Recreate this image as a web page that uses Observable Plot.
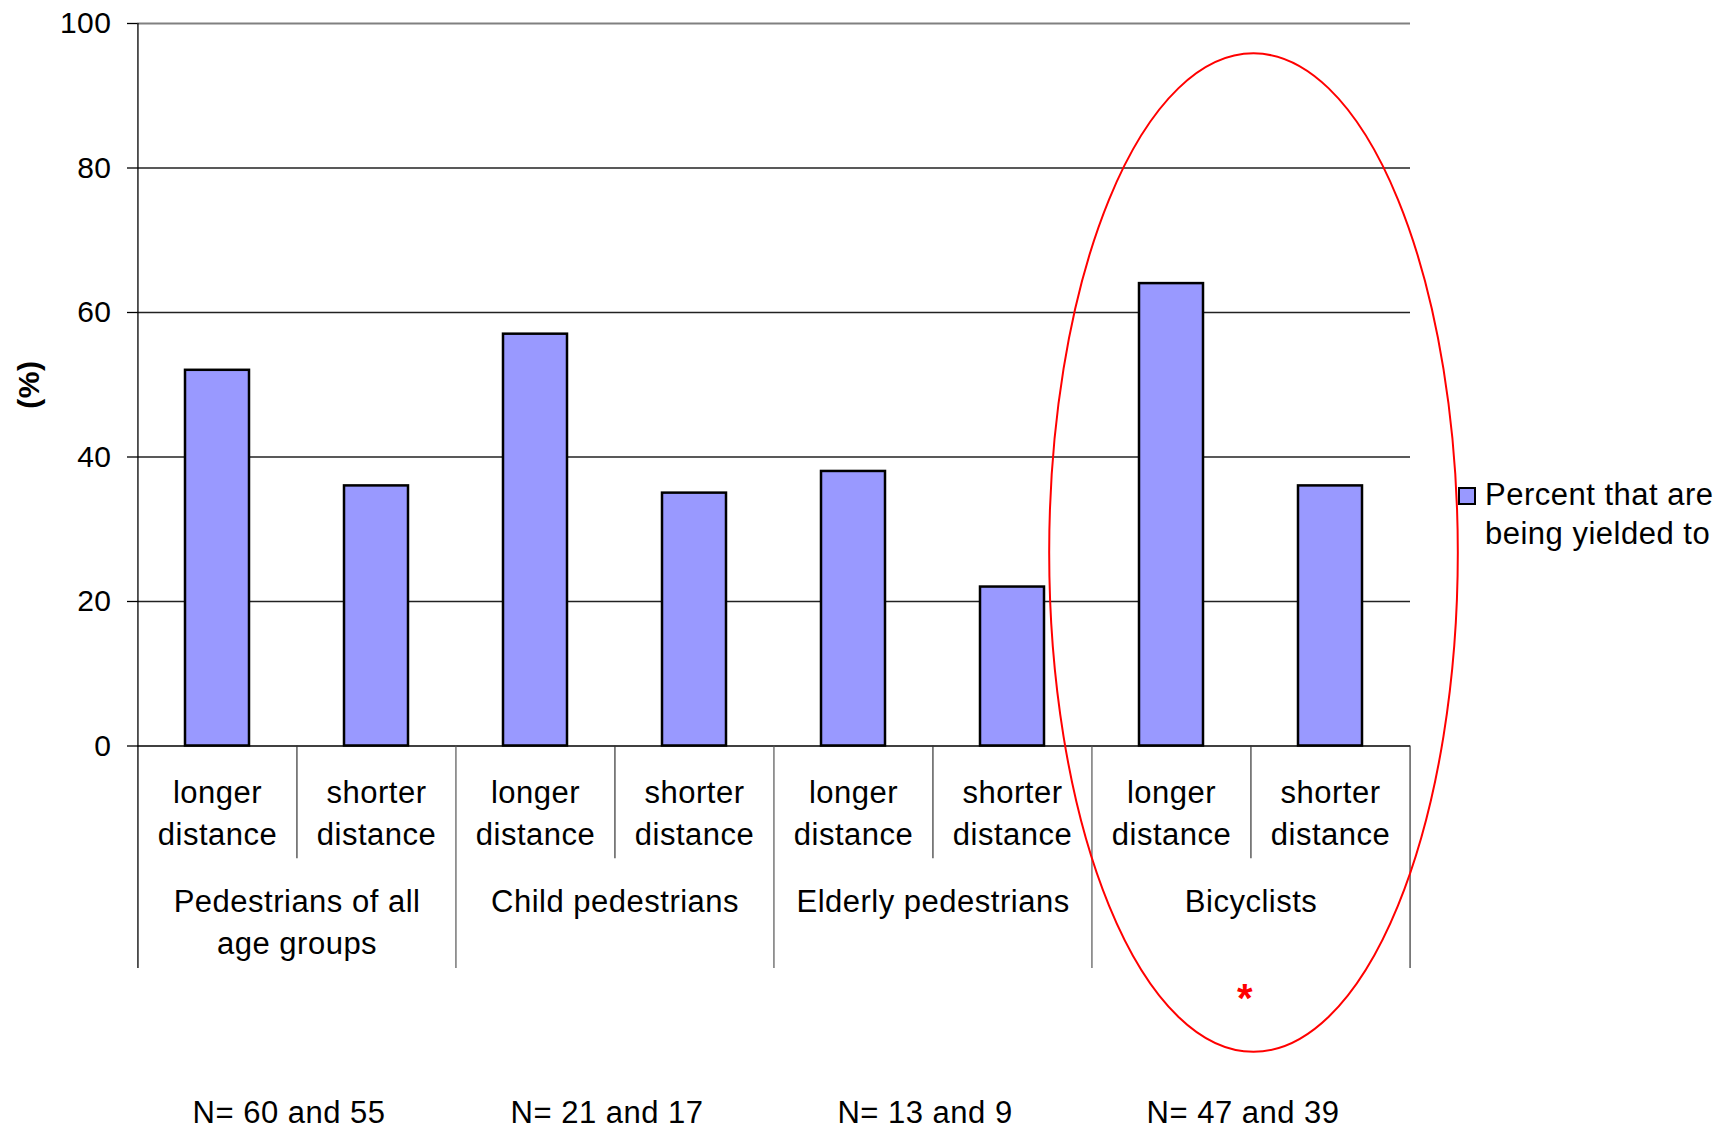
<!DOCTYPE html>
<html><head><meta charset="utf-8">
<script src="https://cdn.jsdelivr.net/npm/d3@7"></script>
<script src="https://cdn.jsdelivr.net/npm/@observablehq/plot@0.6"></script>
<style>
html,body{margin:0;padding:0;background:#fff;}
#wrap{position:relative;width:1736px;height:1127px;font-family:"Liberation Sans",Arial,sans-serif;}
#wrap svg{position:absolute;left:0;top:0;}
#legend-sw{position:absolute;left:1458px;top:487px;width:18px;height:18px;box-sizing:border-box;background:#9999ff;border:2.5px solid #000;}
#legend-tx{position:absolute;left:1485px;top:475px;font-size:31px;line-height:39px;letter-spacing:0.5px;color:#000;white-space:nowrap;}
</style>
</head><body>
<div id="wrap"></div>
<script>
// ---- data ----
const groups = ["Pedestrians of all\nage groups", "Child pedestrians", "Elderly pedestrians", "Bicyclists"];
const subs = ["longer\ndistance", "shorter\ndistance"];
const values = [52, 36, 57, 35, 38, 22, 64, 36];
const nLabels = ["N= 60 and 55", "N= 21 and 17", "N= 13 and 9", "N= 47 and 39"];
const yTicks = [0, 20, 40, 60, 80, 100];
const legendLabel = ["Percent that are", "being yielded to"];
const highlightGroup = "Bicyclists";

// ---- table ----
const rows = values.map((v, i) => ({key: i, group: groups[Math.floor(i / 2)], sub: subs[i % 2], value: v}));
const keys = rows.map(d => d.key);
const firstOfGroup = rows.filter((d, i) => i % 2 === 0);
const secondOfGroup = rows.filter((d, i) => i % 2 === 1);

// ---- layout ----
const W = 1736, H = 1127, ML = 137, MR = 326, MT = 23, MB = 381.5;
const step = (W - ML - MR) / keys.length;
const subDepth = -15.6, groupDepth = -30.8;
const zero = () => 0;

const plot = Plot.plot({
  width: W, height: H,
  marginLeft: ML, marginRight: MR, marginTop: MT, marginBottom: MB,
  style: {fontFamily: '"Liberation Sans", Arial, sans-serif', fontSize: "31px", letterSpacing: "0.5px", color: "#000", background: "transparent", overflow: "visible"},
  x: {type: "band", domain: keys, paddingInner: 0.6, paddingOuter: 0.3, axis: null},
  y: {domain: [0, 100], axis: null},
  marks: [
    Plot.ruleY(yTicks.filter(t => t > 0 && t < 100), {stroke: "#222", strokeWidth: 1.3}),
    Plot.ruleY([100], {stroke: "#808080", strokeWidth: 2}),
    Plot.axisY(yTicks, {anchor: "left", label: null, tickSize: 10, tickPadding: 16, fontSize: 30, stroke: "#000", strokeWidth: 1.3}),
    Plot.barY(rows, {x: "key", y: "value", fill: "#9999ff", stroke: "#000", strokeWidth: 2.5}),
    Plot.ruleY([0], {stroke: "#000", strokeWidth: 1.5}),
    Plot.ruleX([keys[0]], {y1: groupDepth, y2: 100, dx: -step / 2, stroke: "#000", strokeWidth: 1.3}),
    Plot.ruleX(firstOfGroup.slice(1), {x: "key", y1: 0, y2: groupDepth, dx: -step / 2, stroke: "#555", strokeWidth: 1.2}),
    Plot.ruleX([keys[keys.length - 1]], {y1: 0, y2: groupDepth, dx: step / 2, stroke: "#333", strokeWidth: 1.2}),
    Plot.ruleX(secondOfGroup, {x: "key", y1: 0, y2: subDepth, dx: -step / 2, stroke: "#333", strokeWidth: 1.2}),
    Plot.text(rows, {x: "key", y: zero, text: "sub", lineAnchor: "top", lineHeight: 1.33, dy: 28.2, fontSize: 31}),
    Plot.text(firstOfGroup, {x: "key", y: zero, text: "group", lineAnchor: "top", lineHeight: 1.33, dy: 137.2, dx: step / 2, fontSize: 31}),
    Plot.text(firstOfGroup, {x: "key", y: zero, text: (d, i) => nLabels[i], lineAnchor: "bottom", dy: 376.5, dx: step / 2 - 8, fontSize: 31}),
    Plot.text(firstOfGroup.filter(d => d.group === highlightGroup), {x: "key", y: zero, text: () => "*", lineAnchor: "bottom", dy: 265.5, dx: step / 2 - 6, fontSize: 40, fontWeight: "bold", fill: "#ff0000"}),
    Plot.text(["(%)"], {frameAnchor: "left", rotate: -90, dx: -108, dy: 24, fontWeight: "bold", fontSize: 30})
  ]
});

// ---- highlight ellipse around the Bicyclists group, positioned via the plot's scales ----
const sx = plot.scale("x"), sy = plot.scale("y");
const hi = firstOfGroup.find(d => d.group === highlightGroup);
const bandLeft = sx.apply(hi.key) - (sx.step - sx.bandwidth) / 2;
const cx = bandLeft + sx.step + 3;
const yTop = 95.8, yBottom = -42.4;
const cy = (sy.apply(yTop) + sy.apply(yBottom)) / 2;
const ry = (sy.apply(yBottom) - sy.apply(yTop)) / 2;
const rx = 1.285 * sx.step;
d3.select(plot).append("ellipse")
  .attr("cx", cx).attr("cy", cy).attr("rx", rx).attr("ry", ry)
  .attr("fill", "none").attr("stroke", "#ff0000").attr("stroke-width", 2);

const wrap = document.getElementById("wrap");
wrap.appendChild(plot);
const sw = document.createElement("div"); sw.id = "legend-sw"; wrap.appendChild(sw);
const tx = document.createElement("div"); tx.id = "legend-tx"; tx.innerHTML = legendLabel.join("<br>"); wrap.appendChild(tx);
</script>
</body></html>
